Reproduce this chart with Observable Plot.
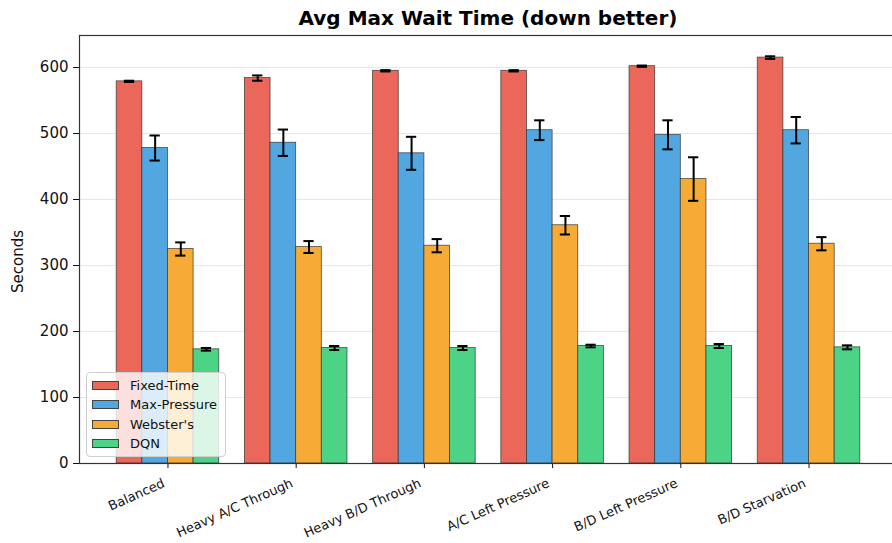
<!DOCTYPE html>
<html>
<head>
<meta charset="utf-8">
<script src="https://cdn.jsdelivr.net/npm/d3@7"></script>
<script src="https://cdn.jsdelivr.net/npm/@observablehq/plot@0.6"></script>
<style>
  body { margin: 0; background: #fff; font-family: "DejaVu Sans", sans-serif; }
  #wrap { position: relative; width: 892px; height: 543px; overflow: hidden; }
  #title { position: absolute; left: 0; top: 6px; width: 976px; text-align: center; font-weight: bold; font-size: 20px; color: #000; }
  #legend { position: absolute; left: 86px; top: 372px; width: 140px; height: 85px; background: rgba(255,255,255,0.8); border: 1px solid #d0d0d0; border-radius: 4px; box-sizing: border-box; font-size: 13px; color: #111; }
  .row { position: absolute; left: 5px; height: 14px; display: flex; align-items: center; }
  .sw { width: 27px; height: 9px; border: 1px solid #444; margin-right: 11px; box-sizing: border-box; }
  #chart { position: absolute; left: 0; top: 30px; }
</style>
</head>
<body>
<div id="wrap">
  <div id="title">Avg Max Wait Time (down better)</div>
  <div id="chart"></div>
  <div id="legend"></div>
</div>
<script>
const categories = ["Balanced", "Heavy A/C Through", "Heavy B/D Through", "A/C Left Pressure", "B/D Left Pressure", "B/D Starvation"];
const series = ["Fixed-Time", "Max-Pressure", "Webster's", "DQN"];
const colors = ["#EA6759", "#52A7E0", "#F5AB35", "#4DD386"];

const fixedTime     = [579, 584, 595, 595, 602, 615];
const fixedTimeErr  = [1, 4, 1, 1, 1, 2];
const maxPressure   = [478, 486, 470, 505, 498, 505];
const maxPressureErr= [19, 20, 25, 15, 22, 20];
const websters      = [325, 328, 330, 361, 431, 333];
const webstersErr   = [10, 9, 10, 14, 33, 10];
const dqn           = [173, 175, 175, 178, 178, 176];
const dqnErr        = [2, 3, 3, 2, 3, 3];

const yTicks = [0, 100, 200, 300, 400, 500, 600];

const values = [fixedTime, maxPressure, websters, dqn];
const errs = [fixedTimeErr, maxPressureErr, webstersErr, dqnErr];
const barW = 0.2;
const data = [];
series.forEach((s, si) => {
  categories.forEach((c, ci) => {
    const pos = ci + (si - 1.5) * barW;
    data.push({series: s, cat: ci, pos, v: values[si][ci], e: errs[si][ci]});
  });
});

const catTicks = d3.range(categories.length);

const chart = Plot.plot({
  width: 892,
  height: 513,
  marginLeft: 79,
  marginRight: -5,
  marginTop: 5,
  marginBottom: 80,
  style: { fontFamily: "DejaVu Sans, sans-serif", fontSize: "14px", color: "#111", background: "transparent" },
  x: { type: "linear", domain: [-0.69, 5.69] },
  y: { domain: [0, 648.5] },
  color: { domain: series, range: colors },
  marks: [
    Plot.ruleY(yTicks.slice(1), { stroke: "#e6e6e6", strokeWidth: 1 }),
    Plot.rect(data, {
      x1: d => d.pos - barW / 2, x2: d => d.pos + barW / 2, y1: 0, y2: "v",
      fill: "series", stroke: "#333", strokeWidth: 0.8, strokeOpacity: 0.85
    }),
    Plot.ruleX(data, { x: "pos", y1: d => d.v - d.e, y2: d => d.v + d.e, stroke: "#000", strokeWidth: 2 }),
    Plot.ruleY(data, { y: d => d.v - d.e, x1: d => d.pos - 0.04, x2: d => d.pos + 0.04, stroke: "#000", strokeWidth: 2 }),
    Plot.ruleY(data, { y: d => d.v + d.e, x1: d => d.pos - 0.04, x2: d => d.pos + 0.04, stroke: "#000", strokeWidth: 2 }),
    Plot.axisY({ ticks: yTicks, tickSize: 6, tickPadding: 5, label: null, fontSize: 15 }),
    Plot.axisX({ ticks: catTicks, tickSize: 5, tickFormat: () => "", label: null }),
    Plot.axisX({ ticks: catTicks, tickFormat: i => categories[i], tickSize: 0, tickPadding: 19, tickRotate: -24, dx: -4, label: null, fontSize: 13 }),
    Plot.text(["Seconds"], { frameAnchor: "left", textAnchor: "middle", rotate: -90, dx: -61, dy: 12, fontSize: 15, fill: "#111" }),
    Plot.frame({ stroke: "#333", strokeWidth: 1.2 })
  ]
});
document.getElementById("chart").appendChild(chart);

const leg = document.getElementById("legend");
series.forEach((s, i) => {
  const row = document.createElement("div");
  row.className = "row";
  row.style.top = (5 + i * 19.6) + "px";
  const sw = document.createElement("div");
  sw.className = "sw";
  sw.style.background = colors[i];
  const t = document.createElement("span");
  t.textContent = s;
  row.appendChild(sw);
  row.appendChild(t);
  leg.appendChild(row);
});
</script>
</body>
</html>
